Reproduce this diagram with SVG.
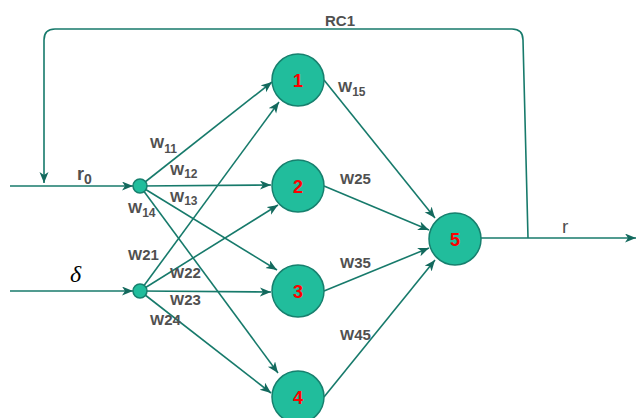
<svg xmlns="http://www.w3.org/2000/svg" width="638" height="418" viewBox="0 0 638 418">
<style>
.c{stroke:#177a6b;stroke-width:1.6;fill:none;marker-end:url(#ah)}
.n{fill:#21bd9c;stroke:#17806e;stroke-width:1.5}
.d{font-family:"Liberation Sans",Arial,sans-serif;font-size:18px;font-weight:bold;fill:#ff0000;text-anchor:middle}
.w{font-family:"Liberation Sans",Arial,sans-serif;font-size:15px;fill:#505050;font-weight:bold}
.s{font-size:12px}
</style>
<defs>
<marker id="ah" markerUnits="userSpaceOnUse" markerWidth="12" markerHeight="10" refX="11" refY="4.5" orient="auto" viewBox="0 0 12 10">
<path d="M0,0 L11,4.5 L0,9 L3,4.5 z" fill="#13695d"/>
</marker>
</defs>
<rect width="638" height="418" fill="#ffffff"/>
<g id="connectors">
<path class="c" d="M10,186 L133,186"/>
<path class="c" d="M10,291 L133,291"/>
<path class="c" d="M140,186 L272,82"/>
<path class="c" d="M140,186 L271,185"/>
<path class="c" d="M140,186 L277,270"/>
<path class="c" d="M140,186 L278,373"/>
<path class="c" d="M140,291 L279,102"/>
<path class="c" d="M140,291 L278,205"/>
<path class="c" d="M140,291 L271,292"/>
<path class="c" d="M140,291 L271,393"/>
<path class="c" d="M324,80 L435,218"/>
<path class="c" d="M324,186 L429,230"/>
<path class="c" d="M324,291 L429,248"/>
<path class="c" d="M324,397 L435,260"/>
<path class="c" d="M481,238 L636,238"/>
<path class="c" d="M528,238 L523,40 Q523,29 512,29 L55,29 Q44,29 44,40 L44,183"/>
</g>
<g id="node-in1"><circle class="n" cx="140" cy="186" r="7"/></g>
<g id="node-in2"><circle class="n" cx="140" cy="291" r="7"/></g>
<g id="node-1"><circle class="n" cx="298" cy="80" r="26"/><text class="d" x="298" y="87">1</text></g>
<g id="node-2"><circle class="n" cx="298" cy="186" r="26"/><text class="d" x="298" y="193">2</text></g>
<g id="node-3"><circle class="n" cx="298" cy="291" r="26"/><text class="d" x="298" y="298">3</text></g>
<g id="node-4"><circle class="n" cx="298" cy="397" r="26"/><text class="d" x="298" y="404">4</text></g>
<g id="node-5"><circle class="n" cx="455" cy="239" r="26"/><text class="d" x="455" y="246">5</text></g>
<g id="labels">
<text class="w" x="325" y="26">RC1</text>
<text class="w" x="77" y="180" style="font-size:18px">r<tspan dy="4" style="font-size:14px">0</tspan></text>
<text x="70" y="282" style="font-family:'Liberation Serif','Times New Roman',serif;font-style:italic;font-size:24px;fill:#000">δ</text>
<text x="562" y="233" style="font-family:'Liberation Sans',Arial,sans-serif;font-size:19px;fill:#505050">r</text>
<text class="w" x="150" y="148">W<tspan class="s" dy="5">11</tspan></text>
<text class="w" x="170" y="175">W<tspan class="s" dy="3">12</tspan></text>
<text class="w" x="170" y="202">W<tspan class="s" dy="3">13</tspan></text>
<text class="w" x="128" y="213">W<tspan class="s" dy="4">14</tspan></text>
<text class="w" x="338" y="92">W<tspan class="s" dy="4">15</tspan></text>
<text class="w" x="128" y="260">W21</text>
<text class="w" x="170" y="278">W22</text>
<text class="w" x="170" y="305">W23</text>
<text class="w" x="150" y="325">W24</text>
<text class="w" x="340" y="184">W25</text>
<text class="w" x="340" y="268">W35</text>
<text class="w" x="340" y="340">W45</text>
</g>
</svg>
